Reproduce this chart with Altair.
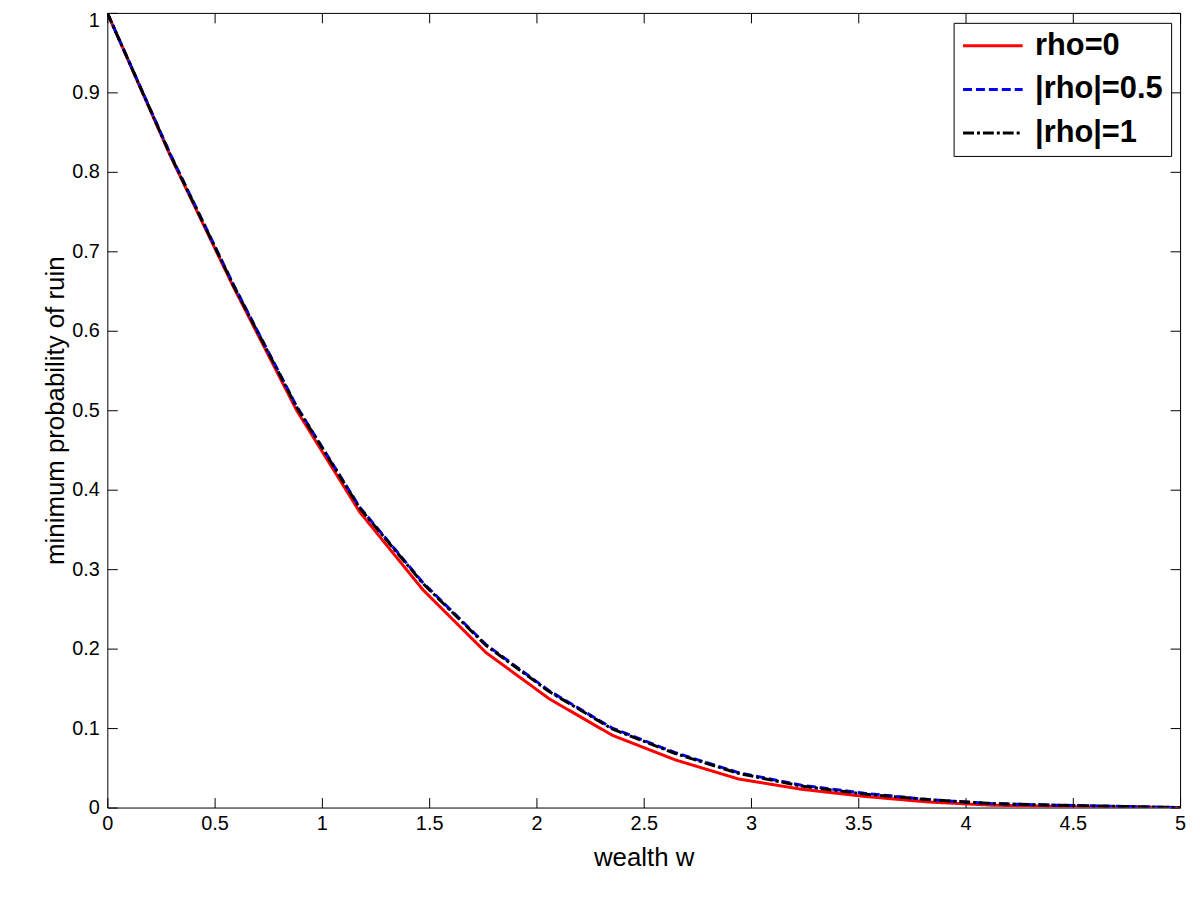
import altair as alt
import pandas as pd

w = [0.0, 0.294, 0.588, 0.882, 1.176, 1.471, 1.765, 2.059, 2.353, 2.647,
     2.941, 3.235, 3.529, 3.824, 4.118, 4.412, 4.706, 5.0]
rho0 = [1.0, 0.820, 0.655, 0.500, 0.372, 0.274, 0.195, 0.137, 0.091, 0.060,
        0.036, 0.023, 0.014, 0.007, 0.003, 0.0015, 0.0005, 0.0]
rho05 = [1.0, 0.822, 0.658, 0.505, 0.378, 0.283, 0.205, 0.147, 0.100, 0.069,
         0.044, 0.028, 0.018, 0.010, 0.005, 0.003, 0.0015, 0.0]
rho1 = [1.0, 0.821, 0.657, 0.504, 0.377, 0.282, 0.204, 0.146, 0.099, 0.068,
        0.043, 0.027, 0.017, 0.010, 0.005, 0.003, 0.0015, 0.0]
labels = ["rho=0", "|rho|=0.5", "|rho|=1"]
colors = ["#ff0000", "#0000ff", "#000000"]
dashes = [[1, 0], [9, 4], [11, 3, 3, 3]]
x_ticks = [0, 0.5, 1, 1.5, 2, 2.5, 3, 3.5, 4, 4.5, 5]
y_ticks = [0, 0.1, 0.2, 0.3, 0.4, 0.5, 0.6, 0.7, 0.8, 0.9, 1]

rows = []
for name, ys in zip(labels, [rho0, rho05, rho1]):
    for xv, yv in zip(w, ys):
        rows.append({"w": xv, "p": yv, "series": name})
df = pd.DataFrame(rows)

FONT = "Liberation Sans"
xscale = alt.Scale(domain=[0, 5], nice=False, zero=False)
yscale = alt.Scale(domain=[0, 1], nice=False, zero=False)

common_axis = dict(domain=False, grid=False, ticks=True, tickSize=10, tickColor="black",
                   tickWidth=1, offset=-10, labelFont=FONT, labelFontSize=20,
                   labelColor="black", titleFont=FONT, titleFontSize=26,
                   titleFontWeight="normal", titleColor="black")

legend = alt.Legend(title=None, orient="none", legendX=852, legendY=10,
                    symbolType="stroke", symbolSize=3600,
                    symbolStrokeWidth=3, labelFont=FONT,
                    labelFontSize=31, labelFontWeight="bold",
                    labelColor="black", labelOffset=11,
                    clipHeight=30, rowPadding=13, padding=8,
                    strokeColor="black", fillColor="white",
                    labelLimit=400)

lines = alt.Chart(df).mark_line(strokeWidth=3, clip=True).encode(
    x=alt.X("w:Q", scale=xscale,
            axis=alt.Axis(title="wealth w", values=x_ticks, format="~g",
                          labelPadding=6, titlePadding=11, labelFlush=False,
                          **common_axis)),
    y=alt.Y("p:Q", scale=yscale,
            axis=alt.Axis(title="minimum probability of ruin", values=y_ticks, format="~g",
                          labelPadding=8, titlePadding=3, labelFlush=False,
                          labelOffset={"condition": {"test": "datum.value == 1", "value": 8},
                                       "value": 0},
                          **common_axis)),
    color=alt.Color("series:N", sort=labels,
                    scale=alt.Scale(domain=labels, range=colors),
                    legend=legend),
    strokeDash=alt.StrokeDash("series:N", sort=labels,
                              scale=alt.Scale(domain=labels, range=dashes),
                              legend=legend),
    detail="series:N",
)

frame = alt.Chart(df).mark_point(opacity=0).encode(
    x=alt.X("w:Q", scale=xscale,
            axis=alt.Axis(orient="top", title=None, labels=False, values=x_ticks,
                          domain=False, grid=False, ticks=True, tickSize=10,
                          tickColor="black", offset=-10)),
    y=alt.Y("p:Q", scale=yscale,
            axis=alt.Axis(orient="right", title=None, labels=False, values=y_ticks,
                          domain=False, grid=False, ticks=True, tickSize=10,
                          tickColor="black", offset=-10)),
)

chart = alt.layer(lines, frame).resolve_axis(
    x="independent", y="independent"
).properties(
    width=1080, height=800,
    autosize=alt.AutoSizeParams(type="none"),
    padding={"left": 100, "top": 2, "right": 12, "bottom": 70},
    background="white",
).configure_view(stroke="black", strokeWidth=1)

chart.save("out.html", embed_options={"renderer": "svg", "actions": False})
